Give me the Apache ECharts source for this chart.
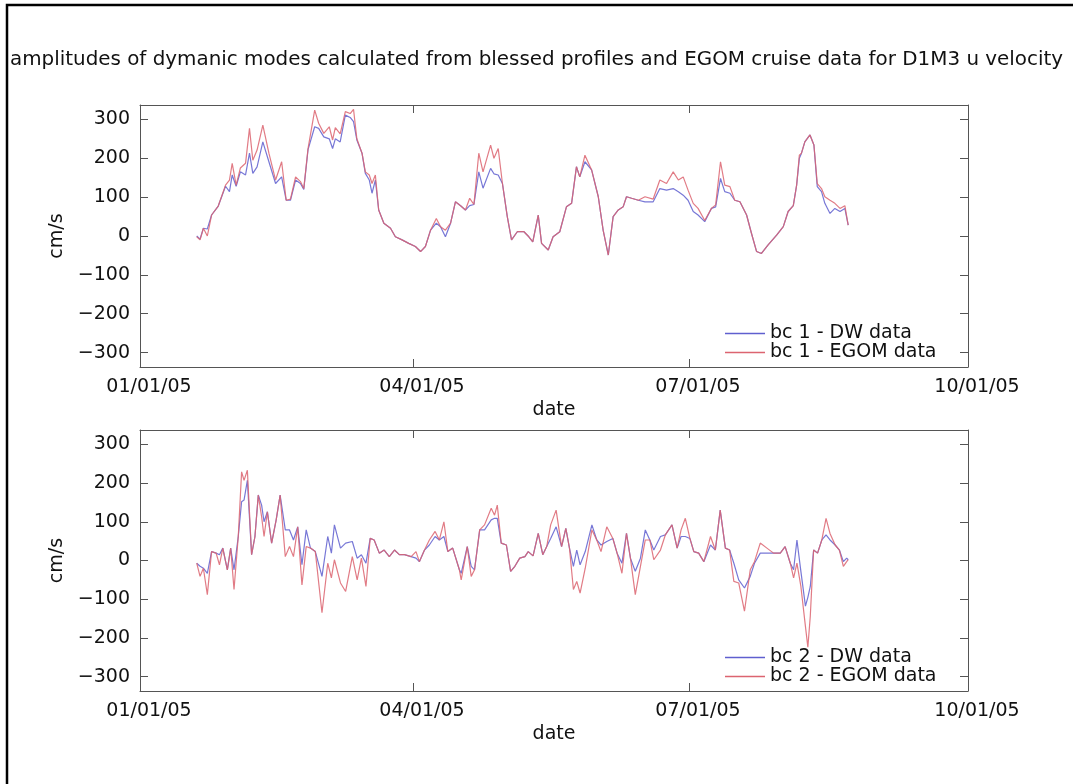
<!DOCTYPE html>
<html>
<head>
<meta charset="utf-8">
<script src="https://cdn.jsdelivr.net/npm/echarts@6/dist/echarts.min.js"></script>
<style>
  html, body { margin: 0; padding: 0; background: #fff; }
  #chart { width: 1073px; height: 784px; }
</style>
</head>
<body>
<div id="chart"></div>
<script>
// x axis: days since 01/01/05
var dateTicks = [0, 90, 181, 273]
var dateLabels = ['01/01/05', '04/01/05', '07/01/05', '10/01/05']
var yTicks = [-300, -200, -100, 0, 100, 200, 300]

// bc 1 (top panel)
var days1 = [18.7, 19.8, 20.9, 22.2, 23.6, 25.8, 28.2, 29.5, 30.4, 31.7,
  33.1, 34.8, 36.1, 37.2, 38.6, 40.5, 42.5, 44.7, 46.7, 48.2,
  49.6, 51.3, 52.9, 54.0, 55.4, 57.6, 58.9, 60.6, 62.4, 63.5,
  64.4, 66.0, 67.7, 69.3, 70.4, 71.5, 73.2, 74.3, 75.6, 76.5,
  77.6, 78.7, 80.4, 82.6, 84.2, 86.4, 88.6, 90.8, 92.5, 94.1,
  95.8, 97.7, 99.1, 100.7, 102.4, 104.0, 105.7, 107.3, 108.7, 110.1,
  111.7, 113.1, 115.6, 116.7, 118.1, 119.5, 121.1, 122.5, 124.4, 126.6,
  128.2, 129.5, 131.3, 132.4, 134.6, 136.2, 138.4, 140.6, 142.3, 143.9,
  145.0, 146.7, 148.9, 151.1, 152.7, 154.4, 156.0, 157.7, 159.3, 160.4,
  162.1, 164.3, 166.5, 169.2, 171.4, 173.6, 175.8, 177.5, 179.1, 180.7,
  182.4, 184.0, 186.2, 188.4, 189.8, 191.4, 192.8, 194.5, 196.1, 197.8,
  200.0, 201.6, 203.3, 204.9, 207.1, 209.9, 212.1, 213.7, 215.4, 216.5,
  217.4, 218.1, 219.2, 220.9, 222.2, 223.3, 224.7, 225.8, 227.5, 229.1,
  230.8, 232.4, 233.5]
var dw1 = [0, -8, 20, 18, 54, 77, 128, 114, 157, 128,
  165, 157, 213, 161, 178, 242, 191, 135, 152, 92,
  92, 144, 135, 120, 222, 281, 277, 255, 250, 225,
  250, 242, 311, 305, 294, 247, 213, 161, 144, 110,
  144, 67, 33, 20, -2, -10, -19, -27, -40, -27,
  15, 33, 24, -2, 33, 88, 78, 67, 78, 81,
  165, 123, 174, 160, 157, 135, 50, -10, 11, 11,
  -2, -15, 54, -19, -36, -2, 11, 75, 84, 178,
  152, 191, 170, 101, 15, -49, 50, 67, 75, 101,
  97, 92, 88, 88, 122, 118, 122, 114, 105, 92,
  63, 54, 37, 71, 75, 148, 114, 110, 92, 88,
  54, 7, -40, -45, -23, 2, 24, 63, 78, 131,
  200, 213, 242, 260, 234, 127, 114, 84, 58, 71,
  63, 71, 28]
var egom1 = [-2, -10, 20, 0, 54, 77, 131, 144, 187, 131,
  175, 187, 277, 195, 221, 285, 213, 144, 191, 92,
  95, 152, 140, 122, 225, 324, 290, 264, 281, 247,
  279, 263, 320, 315, 326, 250, 213, 165, 157, 135,
  157, 67, 33, 20, -2, -10, -19, -27, -40, -27,
  15, 45, 24, 15, 33, 88, 78, 67, 97, 81,
  213, 165, 234, 200, 225, 135, 50, -10, 11, 11,
  -2, -15, 54, -19, -36, -2, 11, 75, 84, 178,
  152, 208, 170, 101, 15, -49, 50, 67, 75, 101,
  97, 92, 101, 95, 144, 135, 165, 144, 152, 118,
  84, 71, 40, 71, 80, 191, 131, 127, 92, 88,
  54, 7, -40, -45, -23, 2, 24, 63, 78, 131,
  208, 213, 242, 260, 234, 135, 122, 101, 92, 84,
  71, 78, 28]

// bc 2 (bottom panel)
var days2 = [18.7, 19.8, 20.9, 22.2, 23.6, 25.1, 26.2, 27.3, 28.8, 29.9,
  31.0, 32.4, 33.5, 34.3, 35.4, 36.8, 37.9, 39.0, 40.1, 40.9,
  42.0, 43.4, 44.9, 46.2, 47.9, 49.3, 50.6, 52.0, 53.4, 54.8,
  56.2, 57.8, 60.0, 61.9, 63.1, 64.1, 66.1, 67.8, 70.0, 71.6,
  73.0, 74.5, 75.9, 77.2, 78.9, 80.5, 82.2, 83.9, 85.5, 87.2,
  89.4, 91.0, 92.1, 93.8, 95.4, 97.3, 98.7, 100.2, 101.5, 103.1,
  105.3, 105.9, 107.9, 109.2, 110.3, 112.0, 113.6, 115.8, 116.9, 117.8,
  119.1, 120.8, 122.2, 123.6, 125.2, 126.9, 128.0, 129.6, 131.3, 132.8,
  134.1, 135.4, 137.2, 139.0, 140.4, 141.6, 142.9, 144.0, 145.1, 146.8,
  149.0, 150.6, 152.0, 153.9, 155.9, 157.3, 158.9, 160.4, 161.7, 163.3,
  165.0, 166.6, 168.1, 169.4, 171.6, 173.2, 175.4, 177.1, 178.4, 179.8,
  181.3, 182.6, 184.2, 185.9, 188.1, 189.7, 191.3, 193.0, 194.4, 195.8,
  197.4, 199.3, 201.2, 202.6, 204.5, 206.7, 208.9, 211.1, 212.7, 214.4,
  215.5, 216.6, 217.9, 219.4, 220.2, 221.0, 222.1, 223.4, 224.8, 226.2,
  227.5, 229.2, 230.6, 231.9, 233.0, 233.5]
var dw2 = [-7, -15, -20, -33, 23, 19, 15, 32, -24, 32,
  -24, 62, 152, 156, 207, 15, 62, 169, 143, 100,
  126, 45, 105, 169, 79, 79, 53, 87, -11, 79,
  32, 23, -41, 62, 19, 92, 32, 45, 49, 6,
  15, -7, 57, 53, 19, 27, 10, 27, 15, 15,
  10, 6, -3, 27, 40, 62, 53, 62, 23, 32,
  -24, -33, 36, -15, -24, 79, 79, 105, 109, 109,
  45, 40, -28, -15, 6, 10, 23, 12, 70, 15,
  36, 57, 87, 36, 83, 32, -15, 27, -11, 23,
  92, 53, 40, 49, 57, 19, -7, 70, 6, -28,
  6, 79, 53, 27, 62, 66, 92, 32, 62, 62,
  57, 23, 19, -3, 40, 27, 130, 32, 27, -7,
  -50, -71, -41, -7, 19, 19, 19, 19, 36, -7,
  -24, 53, -28, -118, -95, -67, 27, 19, 53, 66,
  53, 40, 27, -3, 6, 2]
var egom2 = [-7, -41, -20, -88, 23, 19, -11, 32, -24, 32,
  -75, 62, 229, 207, 233, 15, 62, 169, 113, 62,
  126, 45, 105, 169, 10, 36, 10, 87, -63, 36,
  32, 23, -135, -7, -45, 2, -58, -80, 10, -50,
  6, -67, 57, 53, 19, 27, 10, 27, 15, 15,
  10, 23, -3, 27, 53, 75, 53, 100, 23, 32,
  -24, -50, 36, -41, -24, 79, 92, 135, 117, 143,
  45, 40, -28, -15, 6, 10, 23, 12, 70, 15,
  36, 92, 130, 36, 83, 32, -75, -54, -84, -20,
  79, 53, 23, 87, 57, 19, -33, 70, 6, -88,
  -15, 53, 53, 2, 27, 66, 92, 32, 79, 109,
  57, 23, 19, -3, 62, 27, 130, 32, 27, -54,
  -58, -131, -24, -3, 45, 32, 19, 19, 36, -7,
  -45, -7, -67, -170, -224, -144, 27, 19, 53, 109,
  70, 40, 27, -15, -3, 2]

var FONT = 'DejaVu Sans'
var AXIS_COLOR = '#555'
var BLUE = '#5f5fcf'
var RED = '#dc6470'

function pairs (days, vals) {
  return days.map(function (d, i) { return [d, vals[i]] })
}

function fmtY (v) {
  return v < 0 ? '\u2212' + Math.abs(v) : String(v)
}

function fmtDate (v) {
  var i = dateTicks.indexOf(v)
  return i >= 0 ? dateLabels[i] : ''
}

// one bottom + one top x axis per panel (box with ticks on every side)
function xAxes (gridIndex) {
  var base = {
    gridIndex: gridIndex,
    type: 'value',
    min: 0,
    max: 273,
    splitLine: { show: false },
    axisLine: { onZero: false, lineStyle: { color: AXIS_COLOR, width: 1 } },
    axisTick: { inside: true, length: 8, customValues: dateTicks, lineStyle: { color: AXIS_COLOR } }
  }
  var bottom = Object.assign({}, base, {
    position: 'bottom',
    name: 'date',
    nameLocation: 'middle',
    nameGap: 34,
    nameTextStyle: { fontFamily: FONT, fontSize: 19, color: '#111' },
    axisLabel: {
      customValues: dateTicks,
      formatter: fmtDate,
      margin: 11,
      padding: [0, 0, 0, 18],
      fontFamily: FONT,
      fontSize: 19,
      color: '#111'
    }
  })
  var top = Object.assign({}, base, {
    position: 'top',
    axisLabel: { show: false }
  })
  return [bottom, top]
}

function yAxes (gridIndex) {
  var base = {
    gridIndex: gridIndex,
    type: 'value',
    min: -337,
    max: 337,
    splitLine: { show: false },
    axisLine: { show: true, onZero: false, lineStyle: { color: AXIS_COLOR, width: 1 } },
    axisTick: { inside: true, length: 8, customValues: yTicks, lineStyle: { color: AXIS_COLOR } }
  }
  var left = Object.assign({}, base, {
    position: 'left',
    name: 'cm/s',
    nameLocation: 'middle',
    nameGap: 60,
    nameRotate: 90,
    nameTextStyle: { fontFamily: FONT, fontSize: 19, color: '#111' },
    axisLabel: {
      customValues: yTicks,
      formatter: fmtY,
      margin: 10,
      fontFamily: FONT,
      fontSize: 19,
      color: '#111'
    }
  })
  var right = Object.assign({}, base, {
    position: 'right',
    axisLabel: { show: false }
  })
  return [left, right]
}

function lineSeries (name, xi, yi, data, color) {
  return {
    name: name,
    type: 'line',
    xAxisIndex: xi,
    yAxisIndex: yi,
    data: data,
    showSymbol: false,
    symbol: 'none',
    animation: false,
    color: color,
    lineStyle: { color: color, width: 1.2, opacity: 0.85 }
  }
}

function legendFor (names, top) {
  return {
    data: names,
    orient: 'vertical',
    left: 720,
    top: top,
    icon: 'rect',
    itemWidth: 40,
    itemHeight: 1.5,
    itemGap: 0,
    textStyle: { fontFamily: FONT, fontSize: 19, color: '#111', lineHeight: 18 }
  }
}

var chart = echarts.init(document.getElementById('chart'))

var option = {
  backgroundColor: '#fff',
  animation: false,
  title: {
    text: 'amplitudes of dymanic modes calculated from blessed profiles and EGOM cruise data for D1M3 u velocity',
    left: 5,
    top: 45,
    textStyle: { fontFamily: FONT, fontSize: 19.9, fontWeight: 'normal', color: '#111' }
  },
  graphic: [{
    type: 'rect',
    shape: { x: 7, y: 5, width: 1100, height: 820 },
    style: { fill: 'none', stroke: '#000', lineWidth: 2.5 },
    silent: true
  }],
  legend: [
    legendFor(['bc 1 - DW data', 'bc 1 - EGOM data'], 319),
    legendFor(['bc 2 - DW data', 'bc 2 - EGOM data'], 643)
  ],
  grid: [
    { left: 140, top: 105, width: 828, height: 262 },
    { left: 140, top: 430, width: 828, height: 261 }
  ],
  xAxis: xAxes(0).concat(xAxes(1)),
  yAxis: yAxes(0).concat(yAxes(1)),
  series: [
    lineSeries('bc 1 - DW data', 0, 0, pairs(days1, dw1), BLUE),
    lineSeries('bc 1 - EGOM data', 0, 0, pairs(days1, egom1), RED),
    lineSeries('bc 2 - DW data', 2, 2, pairs(days2, dw2), BLUE),
    lineSeries('bc 2 - EGOM data', 2, 2, pairs(days2, egom2), RED)
  ]
}

chart.setOption(option)
window.addEventListener('resize', function () {
  chart.resize()
})
</script>
</body>
</html>
